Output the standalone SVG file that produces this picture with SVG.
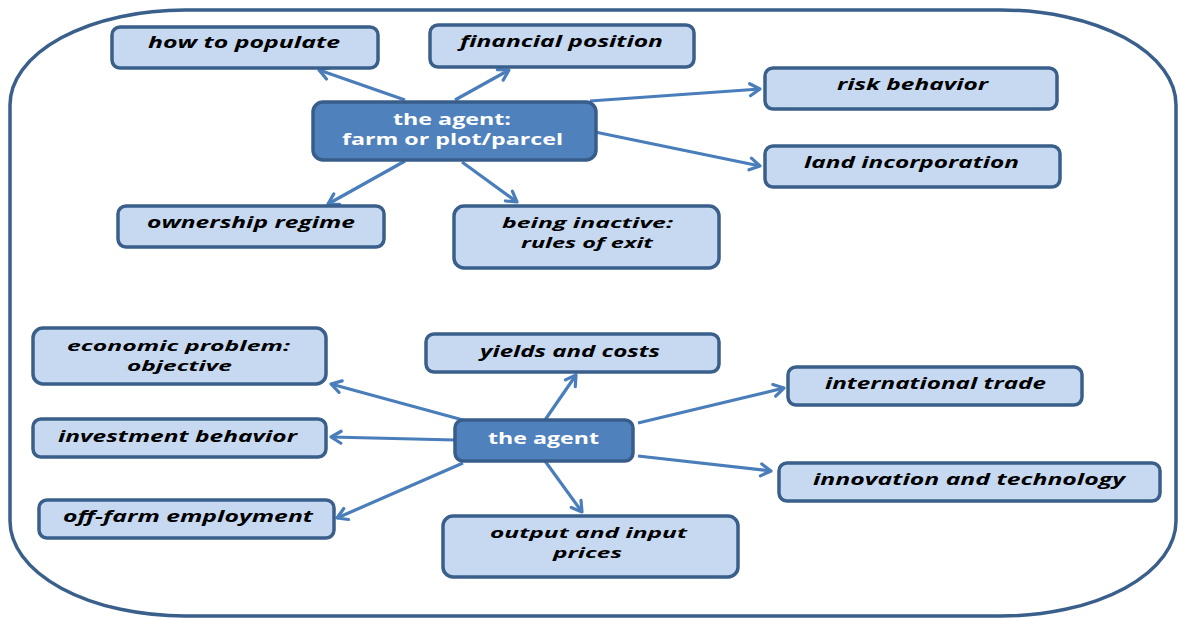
<svg xmlns="http://www.w3.org/2000/svg" width="1181" height="619" viewBox="0 0 1181 619">
<style>
.box{fill:#C6D9F1;stroke:#3A5F8B;stroke-width:3.5}
.hub{fill:#4F81BD;stroke:#385D8A;stroke-width:3.5}
.t{font-family:"Open Sans","Liberation Sans",sans-serif;font-weight:bold;font-style:italic;font-size:15.5px;fill:#000}
.t2{font-size:15px}
.h{font-family:"Open Sans","Liberation Sans",sans-serif;font-weight:bold;font-size:16px;fill:#fff}
.c line{stroke:#4A7EBB;stroke-width:3.2;marker-end:url(#arr)}
</style>
<defs>
<marker id="arr" viewBox="0 0 14 16" refX="12" refY="8" markerWidth="14" markerHeight="16" markerUnits="userSpaceOnUse" orient="auto">
<path d="M2,2 L12,8 L2,14" fill="none" stroke="#4A7EBB" stroke-width="3.2" stroke-linecap="round" stroke-linejoin="round"/>
</marker>
</defs>
<rect x="10" y="10" width="1166" height="606" rx="175" ry="95" fill="#fff" stroke="#3A5F8B" stroke-width="3.5"/>
<g class="c" id="connectors">
<line x1="405" y1="100" x2="319" y2="70"/>
<line x1="455" y1="100" x2="509" y2="70"/>
<line x1="590" y1="101" x2="760" y2="89"/>
<line x1="595" y1="132" x2="760" y2="166"/>
<line x1="405" y1="161" x2="328" y2="204"/>
<line x1="462" y1="162" x2="517" y2="202"/>
<line x1="463" y1="420" x2="331" y2="384"/>
<line x1="545" y1="420" x2="576" y2="375"/>
<line x1="638" y1="423" x2="784" y2="388"/>
<line x1="455" y1="440" x2="331" y2="437"/>
<line x1="638" y1="456" x2="771" y2="471"/>
<line x1="463" y1="463" x2="337" y2="518"/>
<line x1="545" y1="461" x2="582" y2="512"/>
</g>
<g id="n_populate"><rect class="box" x="112" y="27" width="266" height="41" rx="8"/><text class="t" x="148" y="48" textLength="192" lengthAdjust="spacingAndGlyphs">how to populate</text></g>
<g id="n_financial"><rect class="box" x="430" y="25" width="264" height="42" rx="8"/><text class="t" x="460" y="47" textLength="203" lengthAdjust="spacingAndGlyphs">financial position</text></g>
<g id="n_risk"><rect class="box" x="765" y="68" width="292" height="41" rx="8"/><text class="t" x="837" y="90" textLength="151" lengthAdjust="spacingAndGlyphs">risk behavior</text></g>
<g id="n_land"><rect class="box" x="765" y="146" width="295" height="41" rx="8"/><text class="t" x="804" y="168" textLength="215" lengthAdjust="spacingAndGlyphs">land incorporation</text></g>
<g id="n_ownership"><rect class="box" x="118" y="206" width="266" height="41" rx="8"/><text class="t" x="147" y="228" textLength="208" lengthAdjust="spacingAndGlyphs">ownership regime</text></g>
<g id="n_inactive"><rect class="box" x="454" y="206" width="265" height="62" rx="10"/><text class="t t2" x="502" y="228" textLength="171" lengthAdjust="spacingAndGlyphs">being inactive:</text><text class="t t2" x="521" y="248" textLength="132" lengthAdjust="spacingAndGlyphs">rules of exit</text></g>
<g id="n_hub1"><rect class="hub" x="313" y="102" width="283" height="58" rx="10"/><text class="h" x="393" y="125" textLength="118" lengthAdjust="spacingAndGlyphs">the agent:</text><text class="h" x="342" y="145" textLength="221" lengthAdjust="spacingAndGlyphs">farm or plot/parcel</text></g>
<g id="n_economic"><rect class="box" x="33" y="328" width="293" height="56" rx="10"/><text class="t t2" x="67" y="351" textLength="223" lengthAdjust="spacingAndGlyphs">economic problem:</text><text class="t t2" x="127" y="371" textLength="105" lengthAdjust="spacingAndGlyphs">objective</text></g>
<g id="n_yields"><rect class="box" x="426" y="334" width="293" height="38" rx="8"/><text class="t" x="480" y="357" textLength="180" lengthAdjust="spacingAndGlyphs">yields and costs</text></g>
<g id="n_trade"><rect class="box" x="788" y="367" width="294" height="38" rx="8"/><text class="t" x="825" y="389" textLength="221" lengthAdjust="spacingAndGlyphs">international trade</text></g>
<g id="n_investment"><rect class="box" x="33" y="419" width="293" height="38" rx="8"/><text class="t" x="58" y="442" textLength="239" lengthAdjust="spacingAndGlyphs">investment behavior</text></g>
<g id="n_hub2"><rect class="hub" x="455" y="420" width="178" height="41" rx="8"/><text class="h" x="488" y="444" textLength="111" lengthAdjust="spacingAndGlyphs">the agent</text></g>
<g id="n_innovation"><rect class="box" x="779" y="463" width="381" height="38" rx="8"/><text class="t" x="813" y="485" textLength="312" lengthAdjust="spacingAndGlyphs">innovation and technology</text></g>
<g id="n_offfarm"><rect class="box" x="39" y="500" width="295" height="38" rx="8"/><text class="t" x="63" y="522" textLength="250" lengthAdjust="spacingAndGlyphs">off-farm employment</text></g>
<g id="n_prices"><rect class="box" x="443" y="516" width="295" height="61" rx="10"/><text class="t t2" x="490" y="538" textLength="197" lengthAdjust="spacingAndGlyphs">output and input</text><text class="t t2" x="553" y="558" textLength="69" lengthAdjust="spacingAndGlyphs">prices</text></g>
</svg>
